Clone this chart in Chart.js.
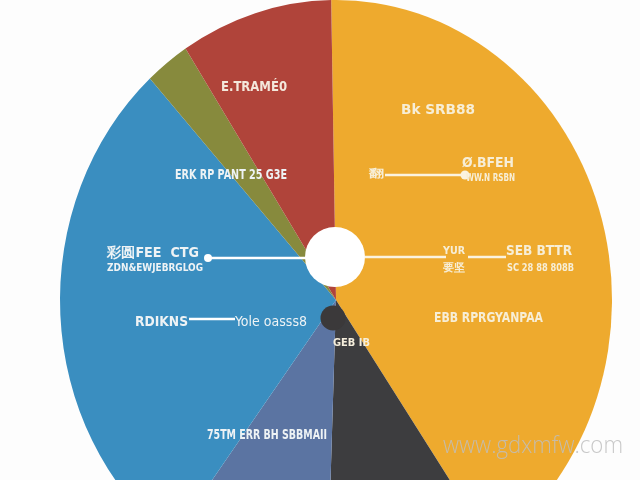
<!DOCTYPE html>
<html>
<head>
<meta charset="utf-8">
<script src="https://cdn.jsdelivr.net/npm/chart.js@4.4.1/dist/chart.umd.min.js"></script>
<style>
  html, body { margin: 0; padding: 0; background: #fdfdfd; }
  #wrap { width: 640px; height: 480px; overflow: hidden; position: relative; background: #fdfdfd; }
  canvas { display: block; }
</style>
</head>
<body>
<div id="wrap"><canvas id="c" width="640" height="620"></canvas></div>
<script>
// ---- data ----
const categories = ['Bk SRB88', 'GEB IB', '75TM ERR BH SBBMAII', 'RDIKNS', 'ERK RP PANT 25 G3E', 'E.TRAMÉ0'];
const shares = [40.7, 10.1, 9.7, 28.0, 2.6, 8.9];
const noteTexts = ['Ø.BFEH', 'WW.N RSBN', '翻', '彩圆FEE  CTG', 'ZDN&EWJEBRGLOG', 'YUR', '要坚', 'SEB BTTR', 'SC 28 88 808B', 'Yole oasss8', 'EBB RPRGYANPAA'];
const watermark = 'www.gdxmfw.com';

// ---- styles ----
const sliceColors = ['#eeaa2e', '#3d3d3f', '#5b74a2', '#3a8ec0', '#878a3d', '#b0443a'];
const Y_STRETCH = 300 / 276;

function fitText(ctx, txt, x, y, w, font, color) {
  ctx.save();
  ctx.font = font;
  ctx.fillStyle = color;
  ctx.textBaseline = 'middle';
  ctx.textAlign = 'left';
  const m = ctx.measureText(txt).width;
  ctx.translate(x, y);
  ctx.scale(w / m, 1);
  ctx.fillText(txt, 0, 0);
  ctx.restore();
}

const decor = {
  id: 'decor',
  beforeDatasetsDraw(chart) {
    const a = chart.getDatasetMeta(0).data[0];
    const ctx = chart.ctx;
    ctx.save();
    ctx.translate(a.x, a.y);
    ctx.scale(1, Y_STRETCH);
    ctx.translate(-a.x, -a.y);
  },
  afterDatasetsDraw(chart) {
    chart.ctx.restore();
  },
  afterDraw(chart) {
    const ctx = chart.ctx;
    const a = chart.getDatasetMeta(0).data[0];
    const cx = a.x, cy = a.y;
    const P = (dx, dy) => [cx + dx, cy + dy];

    // leader lines
    ctx.save();
    ctx.strokeStyle = '#ffffff';
    ctx.lineWidth = 2.5;
    const seg = (p, q, col) => { ctx.strokeStyle = col || '#ffffff'; ctx.beginPath(); ctx.moveTo(p[0], p[1]); ctx.lineTo(q[0], q[1]); ctx.stroke(); };
    seg(P(-128, -42), P(-30, -42));
    seg(P(29, -43), P(110, -43), '#fbf3df');
    seg(P(132, -43), P(170, -43), '#fbf3df');
    seg(P(49, -125), P(126, -125), '#fbf3df');
    seg(P(-147, 19), P(-101, 19));
    // dots at line ends
    ctx.fillStyle = '#ffffff';
    ctx.beginPath(); ctx.arc(cx - 128, cy - 42, 4, 0, Math.PI * 2); ctx.fill();
    ctx.fillStyle = '#fbf3df';
    ctx.beginPath(); ctx.arc(cx + 129, cy - 125, 4.5, 0, Math.PI * 2); ctx.fill();
    // white hub
    ctx.fillStyle = '#ffffff';
    ctx.beginPath(); ctx.arc(cx - 1, cy - 43, 30, 0, Math.PI * 2); ctx.fill();
    // dark knob
    ctx.fillStyle = '#3b393a';
    ctx.beginPath(); ctx.arc(cx - 3, cy + 18, 12.5, 0, Math.PI * 2); ctx.fill();
    ctx.restore();

    const big = 'bold 14px "DejaVu Sans Condensed", "Liberation Sans Narrow", sans-serif';
    const small = 'bold 11px "DejaVu Sans Condensed", "Liberation Sans Narrow", sans-serif';
    const reg = '14px "DejaVu Sans Condensed", sans-serif';
    const cream = '#f7eed6';
    const white = '#eef3f5';

    // category labels
    fitText(ctx, categories[0], cx + 65, cy - 190, 74, big, cream);
    fitText(ctx, categories[1], cx - 3, cy + 43, 37, small, '#f5eedc');
    fitText(ctx, categories[2], cx - 129, cy + 135, 120, big, white);
    fitText(ctx, categories[3], cx - 201, cy + 22, 53, big, white);
    fitText(ctx, categories[4], cx - 161, cy - 125, 112, big, white);
    fitText(ctx, categories[5], cx - 115, cy - 213, 66, big, '#f4e8dc');

    // notes
    fitText(ctx, noteTexts[0], cx + 126, cy - 137, 52, big, cream);
    fitText(ctx, noteTexts[1], cx + 130, cy - 122, 49, small, cream);
    fitText(ctx, noteTexts[2], cx + 33, cy - 126, 15, small, cream);
    fitText(ctx, noteTexts[3], cx - 229, cy - 47, 92, big, white);
    fitText(ctx, noteTexts[4], cx - 229, cy - 32, 96, small, white);
    fitText(ctx, noteTexts[5], cx + 107, cy - 49, 22, small, cream);
    fitText(ctx, noteTexts[6], cx + 107, cy - 32, 22, small, cream);
    fitText(ctx, noteTexts[7], cx + 170, cy - 49, 66, big, cream);
    fitText(ctx, noteTexts[8], cx + 171, cy - 32, 67, small, cream);
    fitText(ctx, noteTexts[9], cx - 101, cy + 22, 72, reg, white);
    fitText(ctx, noteTexts[10], cx + 98, cy + 18, 109, big, cream);

    // watermark
    fitText(ctx, watermark, cx + 107, cy + 146, 180, '300 24px "Open Sans", "DejaVu Sans", sans-serif', 'rgba(190,190,190,0.85)');
  }
};

new Chart(document.getElementById('c'), {
  type: 'pie',
  data: {
    labels: categories,
    datasets: [{
      data: shares,
      backgroundColor: sliceColors,
      borderWidth: 0
    }]
  },
  options: {
    responsive: false,
    animation: false,
    rotation: -1,
    layout: { padding: { left: 60, right: 28, top: 24, bottom: 44 } },
    plugins: {
      legend: { display: false },
      tooltip: { enabled: false }
    }
  },
  plugins: [decor]
});
</script>
</body>
</html>
